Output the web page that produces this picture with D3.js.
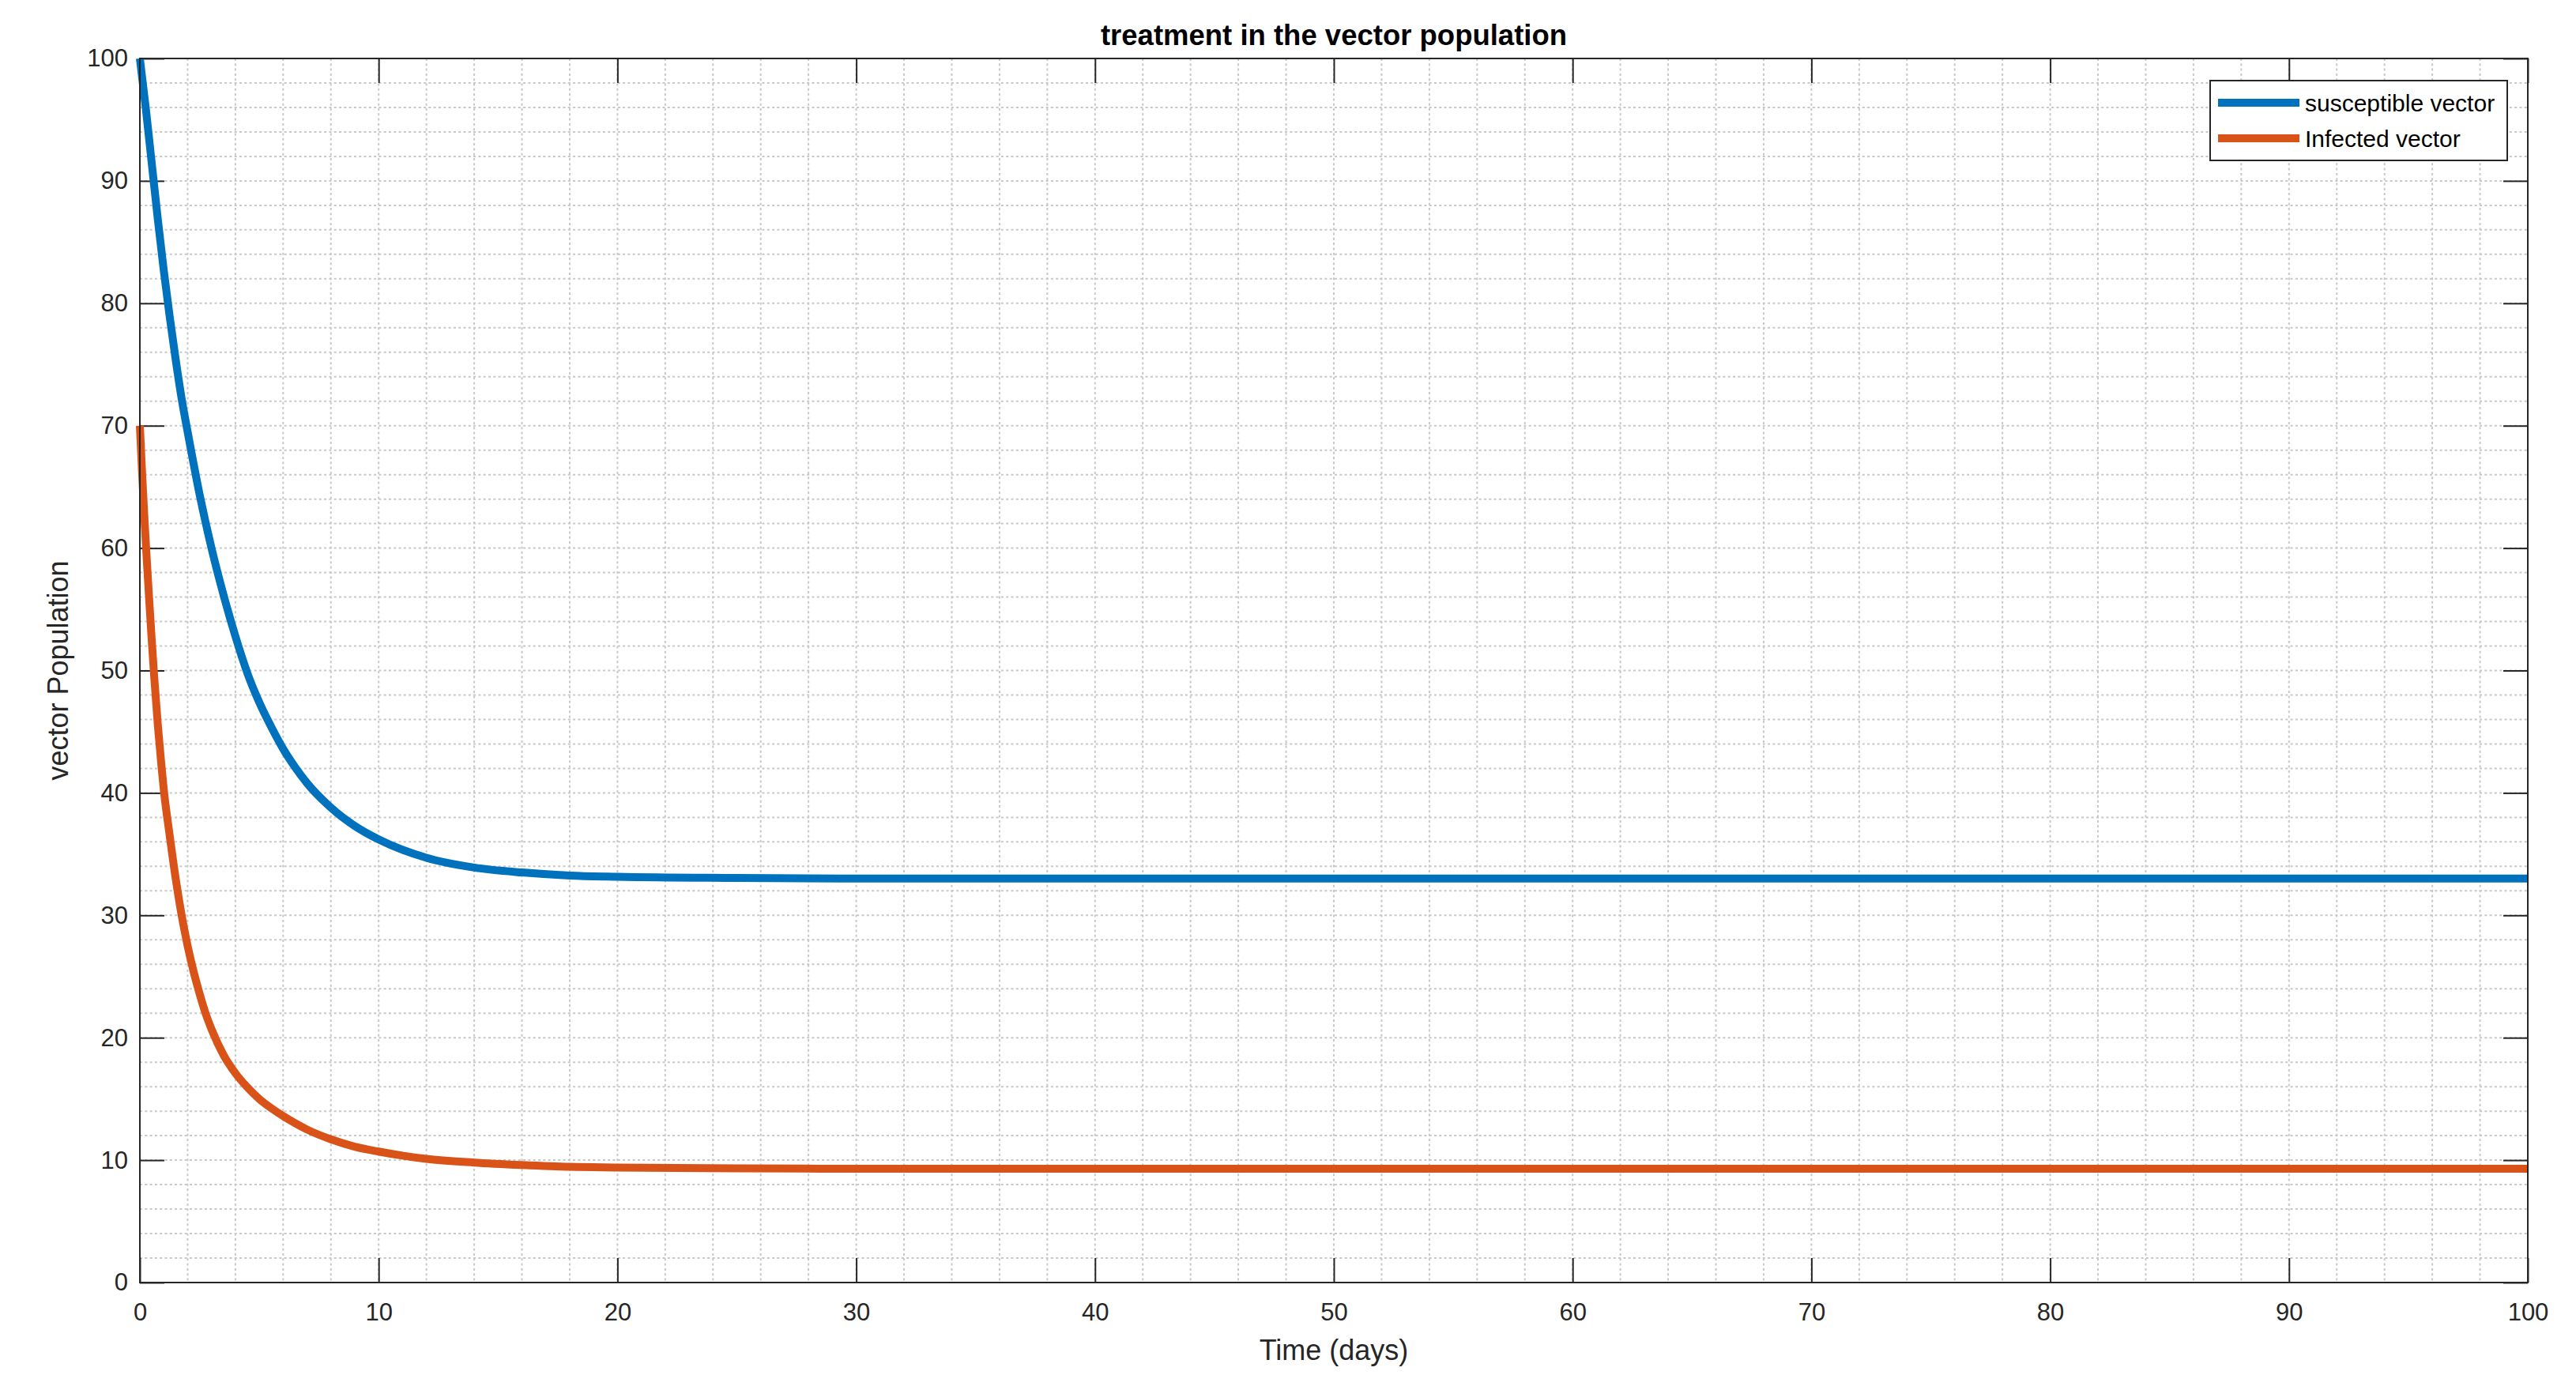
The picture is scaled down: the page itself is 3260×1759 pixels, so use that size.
<!DOCTYPE html>
<html>
<head>
<meta charset="utf-8">
<script src="https://cdn.jsdelivr.net/npm/d3@7"></script>
<style>
  html, body { margin: 0; padding: 0; background: #fff; }
  svg { display: block; }
  text { font-family: "Liberation Sans", Arial, Helvetica, sans-serif; }
</style>
</head>
<body>
<svg id="chart" width="3260" height="1759"></svg>
<script>
// ---- data ----
const chartTitle = "treatment in the vector population";
const xLabel = "Time (days)";
const yLabel = "vector Population";
const seriesNames = ["susceptible vector", "Infected vector"];

const tSusceptible = [0, 0.25, 0.5, 0.75, 1.0, 1.25, 1.5, 1.75, 2.0, 2.5, 3.0, 3.5, 4.0, 4.5, 5.0, 5.5, 6.0, 6.5, 7.0, 8.0, 9.0, 10, 12, 14, 16, 18, 20, 25, 30, 40, 50, 60, 70, 80, 90, 100];
const susceptible  = [100, 95.9, 91.4, 86.9, 82.7, 78.9, 75.4, 72.2, 69.5, 64.4, 60.0, 56.2, 52.8, 49.8, 47.4, 45.4, 43.6, 42.1, 40.8, 38.8, 37.3, 36.2, 34.7, 33.9, 33.5, 33.25, 33.15, 33.05, 33.0, 33.0, 33.0, 33.0, 33.0, 33.0, 33.0, 33.0];

const tInfected = [0, 0.1, 0.2, 0.3, 0.4, 0.5, 0.6, 0.75, 0.9, 1.0, 1.25, 1.5, 1.75, 2.0, 2.25, 2.5, 2.75, 3.0, 3.5, 4.0, 4.5, 5.0, 5.5, 6.0, 7.0, 8.0, 9.0, 10, 12, 14, 16, 18, 20, 25, 30, 40, 50, 60, 70, 80, 90, 100];
const infected  = [70, 65.9, 62.1, 58.7, 55.5, 52.4, 49.5, 45.6, 42.3, 40.3, 36.5, 33.0, 30.0, 27.5, 25.4, 23.6, 22.0, 20.7, 18.6, 17.1, 15.95, 15.0, 14.25, 13.6, 12.5, 11.7, 11.1, 10.7, 10.1, 9.8, 9.6, 9.45, 9.4, 9.33, 9.3, 9.3, 9.3, 9.3, 9.3, 9.3, 9.3, 9.3];

const xTicks = [0, 10, 20, 30, 40, 50, 60, 70, 80, 90, 100];
const yTicks = [0, 10, 20, 30, 40, 50, 60, 70, 80, 90, 100];
const xMinor = d3.range(2, 100, 2);
const yMinor = d3.range(2, 100, 2);

// ---- layout ----
const L = 177, R = 3199, T = 74, B = 1623;
const axisColor = "#262626";
const colors = ["#0072BD", "#D95319"];
const tickLen = 31;

const svg = d3.select("#chart");
svg.append("rect").attr("width", 3260).attr("height", 1759).attr("fill", "#fff");

const x = d3.scaleLinear().domain([0, 100]).range([L, R]);
const y = d3.scaleLinear().domain([0, 100]).range([B, T]);

// grid (all dotted)
const grid = svg.append("g").attr("stroke", "#c8c8c8").attr("stroke-width", 2)
  .attr("stroke-dasharray", "3,3.3");
grid.selectAll("line.gx").data(xMinor).join("line")
  .attr("x1", d => x(d)).attr("x2", d => x(d)).attr("y1", T).attr("y2", B);
grid.selectAll("line.gy").data(yMinor).join("line")
  .attr("x1", L).attr("x2", R).attr("y1", d => y(d)).attr("y2", d => y(d));

// axes
function styleAxis(g) {
  g.select(".domain").remove();
  g.selectAll(".tick line").attr("stroke", axisColor).attr("stroke-width", 2);
  g.selectAll(".tick text").attr("fill", axisColor).attr("font-size", 31)
    .attr("font-family", '"Liberation Sans", Arial, sans-serif');
}
svg.append("g").attr("transform", `translate(0,${B})`)
  .call(d3.axisBottom(x).tickValues(xTicks).tickSize(-tickLen).tickPadding(26).tickFormat(d3.format("d")))
  .call(styleAxis);
svg.append("g").attr("transform", `translate(0,${T})`)
  .call(d3.axisTop(x).tickValues(xTicks).tickSize(-tickLen).tickFormat(""))
  .call(styleAxis);
svg.append("g").attr("transform", `translate(${L},0)`)
  .call(d3.axisLeft(y).tickValues(yTicks).tickSize(-tickLen).tickPadding(15).tickFormat(d3.format("d")))
  .call(styleAxis);
svg.append("g").attr("transform", `translate(${R},0)`)
  .call(d3.axisRight(y).tickValues(yTicks).tickSize(-tickLen).tickFormat(""))
  .call(styleAxis);

// lines
const lineGen = d3.line().x(d => x(d[0])).y(d => y(d[1])).curve(d3.curveMonotoneX);
const sData = tSusceptible.map((t, i) => [t, susceptible[i]]);
const iData = tInfected.map((t, i) => [t, infected[i]]);
svg.append("path").datum(sData).attr("d", lineGen).attr("fill", "none")
  .attr("stroke", colors[0]).attr("stroke-width", 10).attr("stroke-linejoin", "round");
svg.append("path").datum(iData).attr("d", lineGen).attr("fill", "none")
  .attr("stroke", colors[1]).attr("stroke-width", 10).attr("stroke-linejoin", "round");

// box
svg.append("rect").attr("x", L).attr("y", T).attr("width", R - L).attr("height", B - T)
  .attr("fill", "none").attr("stroke", axisColor).attr("stroke-width", 2);

// labels
svg.append("text").attr("x", (L + R) / 2).attr("y", 57).attr("text-anchor", "middle")
  .attr("font-size", 36.5).attr("font-weight", "bold").attr("fill", "#000").text(chartTitle);
svg.append("text").attr("x", (L + R) / 2).attr("y", 1721).attr("text-anchor", "middle")
  .attr("font-size", 36).attr("fill", axisColor).text(xLabel);
svg.append("text").attr("transform", `translate(86,${(T + B) / 2}) rotate(-90)`)
  .attr("text-anchor", "middle").attr("font-size", 36).attr("fill", axisColor).text(yLabel);

// legend
const lg = svg.append("g");
lg.append("rect").attr("x", 2797).attr("y", 102).attr("width", 376).attr("height", 101)
  .attr("fill", "#fff").attr("stroke", axisColor).attr("stroke-width", 2);
const legY = [130, 175];
seriesNames.forEach((name, i) => {
  lg.append("line").attr("x1", 2807).attr("x2", 2910).attr("y1", legY[i]).attr("y2", legY[i])
    .attr("stroke", colors[i]).attr("stroke-width", 10);
  lg.append("text").attr("x", 2917).attr("y", legY[i] + 11).attr("font-size", 30)
    .attr("fill", "#000").text(name);
});
</script>
</body>
</html>
